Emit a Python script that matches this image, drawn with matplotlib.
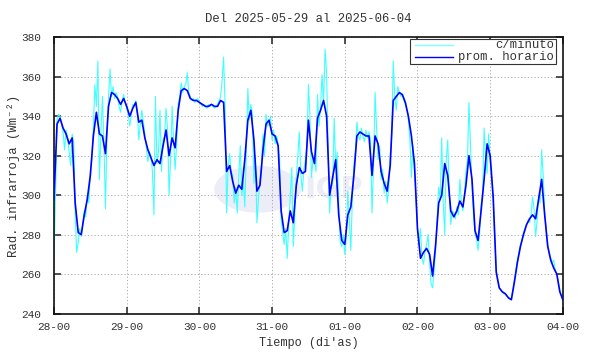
import numpy as np
import matplotlib
matplotlib.use("Agg")
import matplotlib.pyplot as plt
from matplotlib.patches import Rectangle, Circle

# === data ===
TITLE = "Del 2025-05-29 al 2025-06-04"
DAY_LABELS = ["28-00", "29-00", "30-00", "31-00", "01-00", "02-00", "03-00", "04-00"]
Y_TICKS = [240, 260, 280, 300, 320, 340, 360, 380]

# hourly mean (blue), one value per hour from 28-00 to 04-00
prom_horario = [
    298, 336, 339, 334, 331, 326, 329, 296, 281, 280, 290, 298,
    310, 330, 342, 331, 330, 321, 345, 352, 351, 349, 346, 349,
    345, 340, 344, 347, 337, 338, 329, 323, 319, 315, 318, 316,
    325, 333, 320, 329, 324, 343, 353, 354, 353, 349, 348, 348,
    347, 346, 345, 345, 346, 345, 345, 348, 347, 312, 315, 307,
    301, 305, 303, 318, 338, 343, 328, 302, 305, 323, 336, 338,
    331, 330, 325, 292, 281, 282, 292, 286, 305, 314, 311, 312,
    338, 322, 316, 339, 343, 348, 340, 300, 309, 318, 290, 277,
    275, 290, 294, 310, 330, 332, 331, 330, 330, 310, 330, 326,
    312, 306, 302, 315, 348, 350, 352, 351, 347, 340, 330, 316,
    283, 268, 271, 273, 270, 259, 275, 296, 300, 316, 310, 292,
    289, 292, 297, 294, 305, 320, 308, 282, 277, 292, 308, 326,
    320, 299, 261, 253, 251, 250, 248, 247, 256, 266, 274, 280,
    285, 288, 290, 288, 298, 308, 290, 274, 267, 263, 260, 251,
    247,
]

# per-minute trace (cyan), sampled every half hour
c_minuto = [
    267, 300, 338, 341, 340, 336, 332, 323, 333, 329, 322, 315,
    331, 327, 290, 271, 276, 283, 279, 286, 292, 289, 300, 296,
    312, 318, 334, 356, 345, 368, 308, 332, 350, 326, 293, 330,
    350, 364, 350, 355, 349, 352, 350, 345, 342, 348, 351, 347,
    344, 341, 335, 340, 346, 345, 348, 343, 328, 336, 343, 337,
    331, 324, 317, 322, 320, 312, 290, 350, 316, 322, 343, 312,
    328, 330, 344, 333, 300, 318, 345, 327, 313, 326, 346, 350,
    357, 352, 355, 356, 362, 352, 350, 348, 349, 347, 348, 349,
    347, 346, 345, 346, 345, 344, 346, 345, 346, 345, 344, 345,
    346, 348, 350, 358, 370, 345, 291, 315, 321, 312, 310, 296,
    304, 291, 310, 325, 300, 307, 294, 322, 354, 338, 346, 341,
    306, 320, 286, 298, 308, 315, 331, 320, 341, 335, 336, 340,
    328, 333, 326, 330, 326, 318, 288, 281, 275, 283, 268, 285,
    300, 314, 274, 290, 310, 320, 332, 310, 302, 313, 318, 325,
    356, 340, 309, 318, 320, 312, 351, 335, 345, 361, 347, 374,
    362, 325, 291, 305, 305, 339, 315, 322, 295, 276, 274, 280,
    270, 278, 302, 288, 272, 298, 315, 322, 337, 330, 328, 334,
    330, 327, 333, 329, 332, 328, 291, 315, 352, 334, 318, 325,
    308, 313, 301, 307, 296, 303, 320, 330, 368, 350, 343, 355,
    352, 350, 351, 348, 346, 343, 338, 328, 309, 325, 312, 300,
    284, 275, 283, 268, 265, 272, 275, 280, 266, 255, 253, 262,
    272, 288, 304, 298, 329, 296, 280, 318, 328, 300, 285, 292,
    291, 288, 294, 290, 308, 296, 292, 300, 312, 318, 347, 325,
    305, 290, 280, 278, 272, 280, 295, 300, 334, 318, 311, 331,
    318, 308, 297, 280, 262, 256, 253, 252, 251, 250, 250, 249,
    248, 247, 248, 252, 257, 262, 267, 271, 275, 277, 281, 283,
    285, 287, 286, 290, 299, 293, 279, 287, 300, 296, 323, 310,
    291, 283, 275, 271, 268, 266, 267, 262, 260, 256, 252, 249,
    247,
]

hours_h = np.arange(len(prom_horario))
hours_m = np.arange(len(c_minuto)) * 0.5

# === style ===
FONT = ["Liberation Mono", "DejaVu Sans Mono"]
plt.rcParams["font.family"] = FONT
plt.rcParams["font.size"] = 8.6

fig = plt.figure(figsize=(5.9, 3.54), dpi=100)
ax = fig.add_axes([0.0915, 0.1144, 0.8625, 0.7802])

# faint watermark behind the data
ax.add_patch(Circle((0.40, 0.45), 0.085, transform=ax.transAxes,
                    color="#ededf8", zorder=0, lw=0))
ax.text(0.55, 0.45, "IGP", transform=ax.transAxes, fontsize=22,
        fontweight="bold", color="#ededf8", ha="center", va="center",
        family="DejaVu Sans", zorder=0)

ax.plot(hours_m, c_minuto, color="#40ffff", lw=0.8, zorder=2)
ax.plot(hours_h, prom_horario, color="#0000ff", lw=1.2, zorder=3)

ax.set_xlim(0, 168)
ax.set_ylim(240, 380)
ax.set_xticks(np.arange(0, 169, 24))
ax.set_xticklabels(DAY_LABELS)
ax.set_yticks(Y_TICKS)

ax.grid(True, linestyle=(0, (1.5, 2.5)), color="#a0a0a0", lw=0.6)
ax.tick_params(direction="in", length=5, width=1.2, top=True, right=True,
               colors="#333333", labelsize=8.0)
ax.tick_params(axis="x", pad=6)
ax.tick_params(axis="y", pad=9)
for s in ax.spines.values():
    s.set_linewidth(1.2)
    s.set_color("#111111")

ax.set_title(TITLE, fontsize=8.8, pad=11, color="#333333")
ax.set_xlabel("Tiempo (di'as)", fontsize=8.6, labelpad=4, color="#333333")
ax.set_ylabel("Rad. infrarroja (Wm⁻²)", fontsize=8.8, labelpad=1, color="#333333")

# legend drawn by hand so the labels can be right-aligned
lx0, lx1, ly0, ly1 = 0.7, 0.987, 0.905, 0.993
ax.add_patch(Rectangle((lx0, ly0), lx1 - lx0, ly1 - ly0, transform=ax.transAxes,
                       facecolor="white", edgecolor="#333333", lw=0.8, zorder=5))
for yy, col, lab in [(0.971, "#80ffff", "c/minuto"), (0.928, "#0000ff", "prom. horario")]:
    ax.plot([lx0 + 0.01, lx0 + 0.085], [yy, yy], transform=ax.transAxes,
            color=col, lw=1.0, zorder=6)
    ax.text(lx1 - 0.004, yy, lab, transform=ax.transAxes, ha="right", va="center",
            fontsize=8.8, color="#333333", zorder=6)

fig.savefig("out.png", dpi=100)
